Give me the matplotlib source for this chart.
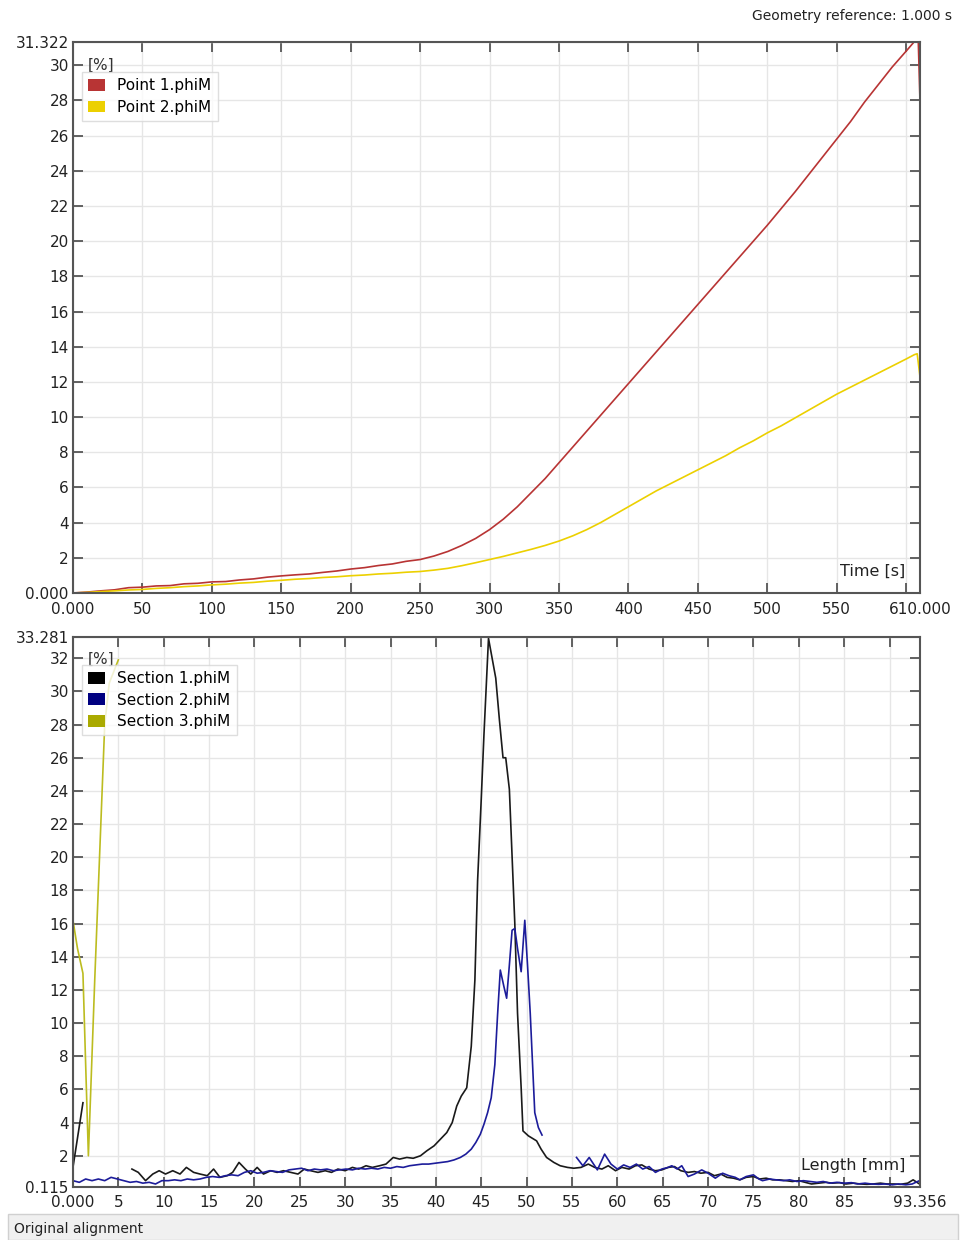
import matplotlib
matplotlib.use("Agg")
import matplotlib.pyplot as plt
from matplotlib.patches import Patch, Rectangle
import numpy as np

# ---- top chart: point probes over time ----
time_s = [0, 10, 20, 30, 40, 50, 60, 70, 80, 90, 100, 110, 120, 130, 140, 150,
          160, 170, 180, 190, 200, 210, 220, 230, 240, 250, 260, 270, 280, 290,
          300, 310, 320, 330, 340, 350, 360, 370, 380, 390, 400, 410, 420, 430,
          440, 450, 460, 470, 480, 490, 500, 510, 520, 530, 540, 550, 560, 570,
          580, 590, 600, 606, 608, 610]
point1 = [0.0, 0.05, 0.12, 0.18, 0.3, 0.33, 0.4, 0.42, 0.52, 0.55, 0.63, 0.65,
          0.74, 0.8, 0.9, 0.97, 1.03, 1.08, 1.17, 1.25, 1.36, 1.44, 1.56, 1.65,
          1.8, 1.9, 2.1, 2.36, 2.7, 3.1, 3.6, 4.2, 4.9, 5.7, 6.5, 7.4, 8.3, 9.2,
          10.1, 11.0, 11.9, 12.8, 13.7, 14.6, 15.5, 16.4, 17.3, 18.2, 19.1, 20.0,
          20.9, 21.85, 22.8, 23.8, 24.8, 25.8, 26.8, 27.9, 28.9, 29.9, 30.8,
          31.35, 33.5, 28.0]
point2 = [0.0, 0.03, 0.08, 0.12, 0.17, 0.2, 0.26, 0.3, 0.36, 0.4, 0.46, 0.5,
          0.56, 0.6, 0.67, 0.72, 0.78, 0.82, 0.88, 0.92, 0.98, 1.02, 1.08, 1.12,
          1.18, 1.22, 1.3, 1.4, 1.55, 1.72, 1.9, 2.08, 2.28, 2.48, 2.7, 2.95,
          3.25, 3.6, 4.0, 4.45, 4.9, 5.35, 5.8, 6.2, 6.6, 7.0, 7.4, 7.8, 8.25,
          8.65, 9.1, 9.5, 9.95, 10.4, 10.85, 11.3, 11.7, 12.1, 12.5, 12.9, 13.3,
          13.55, 13.6, 12.3]

# ---- bottom chart: sections along length ----
sec1_x = [0, 1.1, 3.5,
          6.5, 7.2, 8.0, 8.8, 9.5, 10.2, 11.0, 11.8, 12.5, 13.3, 14.0, 14.8,
          15.5, 16.2, 17.0, 17.6, 18.3, 19.0, 19.6, 20.3, 21.0, 21.8, 22.5,
          23.2, 24.0, 24.8, 25.5, 26.2, 27.0, 27.8, 28.5, 29.2, 30.0, 30.8,
          31.5, 32.3, 33.0, 33.8, 34.5, 35.3, 36.0, 36.8, 37.5, 38.3, 39.0,
          39.8, 40.5, 41.2, 41.8, 42.3, 42.8, 43.4, 43.9, 44.3, 44.6, 45.0,
          45.3, 45.8, 46.2, 46.6, 47.0, 47.4, 47.7, 48.1, 48.4, 48.7, 49.0,
          49.4, 49.6, 50.2, 51.1, 51.6, 52.2, 53.0, 53.7, 54.5, 55.2, 56.0,
          56.8, 57.5, 58.3, 59.0, 59.8, 60.5, 61.3, 62.0, 62.7, 63.5, 64.2,
          64.9, 65.6, 66.3, 67.0, 67.8, 68.5, 69.2, 70.0, 70.7, 71.4, 72.1,
          72.8, 73.5, 74.2, 75.0, 75.7, 76.4, 77.1, 77.9, 78.6, 79.3, 80.0,
          80.7, 81.4, 82.2, 83.0, 83.7, 84.5, 85.2, 86.0, 86.8, 87.5, 88.2,
          89.0, 89.7, 90.5, 91.2, 92.0, 92.6, 93.3]
sec1_y = [1.3, 5.2, np.nan,
          1.2, 1.0, 0.5, 0.9, 1.1, 0.9, 1.1, 0.9, 1.3, 1.0, 0.9, 0.8,
          1.2, 0.7, 0.8, 1.0, 1.6, 1.2, 0.9, 1.3, 0.9, 1.1, 1.0,
          1.1, 1.0, 0.9, 1.2, 1.1, 1.0, 1.1, 1.0, 1.2, 1.1, 1.3,
          1.2, 1.4, 1.3, 1.4, 1.5, 1.9, 1.8, 1.9, 1.85, 2.0, 2.3,
          2.6, 3.0, 3.4, 4.0, 5.0, 5.6, 6.1, 8.6, 12.6, 18.6, 23.5,
          27.4, 33.2, 32.0, 30.8, 28.3, 26.0, 26.0, 24.1, 20.0, 16.0, 10.6,
          6.1, 3.5, 3.2, 2.9, 2.4, 1.9, 1.6, 1.4, 1.3, 1.25, 1.3,
          1.5, 1.3, 1.2, 1.4, 1.1, 1.3, 1.2, 1.4, 1.45, 1.2, 1.1,
          1.15, 1.3, 1.35, 1.1, 1.0, 1.05, 0.95, 1.0, 0.8, 0.9, 0.7,
          0.65, 0.55, 0.7, 0.75, 0.6, 0.65, 0.55, 0.55, 0.5, 0.45, 0.5,
          0.4, 0.3, 0.35, 0.4, 0.35, 0.38, 0.3, 0.35, 0.3, 0.28, 0.3,
          0.35, 0.3, 0.3, 0.28, 0.35, 0.55, 0.3]

sec2_x = [0, 0.7, 1.4, 2.1, 2.8, 3.5, 4.2, 4.9, 5.6, 6.3, 7.0, 7.7, 8.4, 9.1,
          9.8, 10.5, 11.2, 11.9, 12.6, 13.3, 14.0, 14.7, 15.4, 16.1, 16.8,
          17.5, 18.2, 18.9, 19.6, 20.3, 21.0, 21.7, 22.4, 23.1, 23.8, 24.5,
          25.2, 25.9, 26.6, 27.3, 28.0, 28.7, 29.4, 30.1, 30.8, 31.5, 32.2,
          32.9, 33.6, 34.3, 35.0, 35.7, 36.4, 37.1, 37.8, 38.5, 39.2, 39.9,
          40.6, 41.3, 42.0, 42.7, 43.3, 43.9, 44.4, 44.9, 45.3, 45.7, 46.1,
          46.5, 46.8, 47.1, 47.5, 47.8, 48.1, 48.4, 48.7, 49.0, 49.4, 49.8,
          50.1, 50.4, 50.7, 50.9, 51.3, 51.7, 53.5,
          55.5, 56.2, 56.9, 57.8, 58.6, 59.3, 60.0, 60.7, 61.4, 62.1, 62.8,
          63.5, 64.2, 64.9, 65.6, 66.0, 66.6, 67.1, 67.8, 68.5, 69.3, 70.0,
          70.8, 71.6, 72.3, 73.0, 73.5, 74.2, 75.0, 75.6, 76.0, 76.8, 77.5,
          78.3, 79.0, 79.8, 80.5, 81.3, 82.0, 82.7, 83.4, 84.2, 85.0, 85.8,
          86.5, 87.3, 88.0, 88.8, 89.5, 90.3, 91.0, 91.8, 92.5, 93.3]
sec2_y = [0.5, 0.4, 0.6, 0.5, 0.6, 0.5, 0.7, 0.6, 0.5, 0.4, 0.45, 0.35, 0.4, 0.3,
          0.5, 0.5, 0.55, 0.5, 0.6, 0.55, 0.6, 0.7, 0.75, 0.7, 0.8,
          0.85, 0.8, 1.0, 1.1, 0.95, 1.0, 1.1, 1.05, 1.0, 1.15, 1.2,
          1.25, 1.1, 1.2, 1.15, 1.2, 1.1, 1.15, 1.2, 1.15, 1.25, 1.2,
          1.25, 1.2, 1.3, 1.25, 1.35, 1.3, 1.4, 1.45, 1.5, 1.5, 1.55,
          1.6, 1.65, 1.75, 1.9, 2.1, 2.4, 2.8, 3.3, 3.9, 4.6, 5.5,
          7.5, 10.5, 13.2, 12.2, 11.5, 13.5, 15.6, 15.7, 14.5, 13.1, 16.2,
          13.5, 10.6, 7.0, 4.6, 3.7, 3.25, np.nan,
          1.9, 1.4, 1.9, 1.15, 2.1, 1.5, 1.2, 1.45, 1.3, 1.5, 1.2,
          1.35, 1.0, 1.2, 1.3, 1.4, 1.2, 1.4, 0.75, 0.9, 1.15, 0.95,
          0.65, 0.95, 0.8, 0.7, 0.55, 0.75, 0.85, 0.6, 0.5, 0.6, 0.55,
          0.5, 0.55, 0.45, 0.5, 0.45, 0.4, 0.45, 0.35, 0.4, 0.35, 0.38,
          0.3, 0.35, 0.3, 0.28, 0.3, 0.25, 0.3, 0.25, 0.3, 0.5]

sec3_x = [0, 0.5, 1.1, 1.7, 2.4, 3.0, 3.5, 4.0, 5.0]
sec3_y = [16.2, 14.5, 13.0, 2.0, 12.6, 21.0, 28.0, 30.5, 31.9]

top_xticks = [0, 50, 100, 150, 200, 250, 300, 350, 400, 450, 500, 550, 600, 610]
top_xlabels = ['0.000', '50', '100', '150', '200', '250', '300', '350', '400',
               '450', '500', '550', '', '610.000']
top_yticks = [0, 2, 4, 6, 8, 10, 12, 14, 16, 18, 20, 22, 24, 26, 28, 30, 31.322]
top_ylabels = ['0.000'] + [str(v) for v in top_yticks[1:-1]] + ['31.322']

bot_xticks = [0, 5, 10, 15, 20, 25, 30, 35, 40, 45, 50, 55, 60, 65, 70, 75,
              80, 85, 90, 93.356]
bot_xlabels = ['0.000'] + [str(v) for v in bot_xticks[1:-2]] + ['', '93.356']
bot_yticks = [0.115, 2, 4, 6, 8, 10, 12, 14, 16, 18, 20, 22, 24, 26, 28, 30, 32, 33.281]
bot_ylabels = ['0.115'] + [str(v) for v in bot_yticks[1:-1]] + ['33.281']

RED = '#b83434'
YELLOW = '#ecd000'
BLACK = '#1a1a1a'
NAVY = '#1c1c9a'
OLIVE = '#bcbc20'

plt.rcParams['font.family'] = ['DejaVu Sans']


def style_axes(ax, xticks, xlabels, yticks, ylabels, xpad):
    ax.set_xticks(xticks)
    ax.set_xticklabels(xlabels)
    ax.set_yticks(yticks)
    ax.set_yticklabels(ylabels)
    ax.tick_params(direction='in', top=True, right=True, length=7, width=1.3,
                   color='#555555', labelsize=11, labelcolor='#222222', pad=3)
    ax.tick_params(axis='x', pad=xpad)
    ax.grid(True, color='#e6e6e6', lw=1.0)
    ax.set_axisbelow(True)
    for s in ax.spines.values():
        s.set_color('#555555')
        s.set_linewidth(1.5)


def add_legend(ax, names, colors, y):
    handles = [Patch(facecolor=c, edgecolor='none') for c in colors]
    leg = ax.legend(handles, names, loc='upper left', bbox_to_anchor=(0.011, y),
                    fontsize=11, frameon=True, fancybox=False, handlelength=1.1,
                    handleheight=0.8, handletextpad=0.8, labelspacing=0.42,
                    borderpad=0.4, borderaxespad=0)
    leg.get_frame().set_edgecolor('#d6d6d6')
    leg.get_frame().set_linewidth(1.0)


fig = plt.figure(figsize=(9.6, 12.4), dpi=100)

# top axes
ax1 = fig.add_axes([0.0760, 0.5218, 0.8823, 0.4443])
ax1.plot(time_s, point1, color=RED, lw=1.2)
ax1.plot(time_s, point2, color=YELLOW, lw=1.2)
ax1.set_xlim(0, 610)
ax1.set_ylim(0, 31.322)
style_axes(ax1, top_xticks, top_xlabels, top_yticks, top_ylabels, 6.5)
add_legend(ax1, ['Point 1.phiM', 'Point 2.phiM'], [RED, YELLOW], 0.945)
ax1.text(0.017, 0.957, '[%]', transform=ax1.transAxes, fontsize=11,
         color='#333333', ha='left', va='center')
ax1.text(0.983, 0.04, 'Time [s]', transform=ax1.transAxes, fontsize=11.5,
         color='#222222', ha='right', va='center')

# bottom axes
ax2 = fig.add_axes([0.0760, 0.0427, 0.8823, 0.4436])
ax2.plot(sec1_x, sec1_y, color=BLACK, lw=1.2)
ax2.plot(sec2_x, sec2_y, color=NAVY, lw=1.2)
ax2.plot(sec3_x, sec3_y, color=OLIVE, lw=1.2)
ax2.set_xlim(0, 93.356)
ax2.set_ylim(0.115, 33.281)
style_axes(ax2, bot_xticks, bot_xlabels, bot_yticks, bot_ylabels, 5.5)
add_legend(ax2, ['Section 1.phiM', 'Section 2.phiM', 'Section 3.phiM'],
           ['#000000', '#000080', '#aaaa00'], 0.949)
ax2.text(0.017, 0.96, '[%]', transform=ax2.transAxes, fontsize=11,
         color='#333333', ha='left', va='center')
ax2.text(0.983, 0.04, 'Length [mm]', transform=ax2.transAxes, fontsize=11.5,
         color='#222222', ha='right', va='center')

fig.text(0.9917, 0.987, 'Geometry reference: 1.000 s', fontsize=10,
         color='#222222', ha='right', va='center')

# status bar at the bottom
fig.patches.append(Rectangle((8 / 960, 0), 950 / 960, 26 / 1240,
                             transform=fig.transFigure, facecolor='#f0f0f0',
                             edgecolor='#d0d0d0', lw=1.0))
fig.text(14 / 960, 1 - 1229 / 1240, 'Original alignment', fontsize=10,
         color='#222222', ha='left', va='center')

fig.savefig('out.png', dpi=100)
